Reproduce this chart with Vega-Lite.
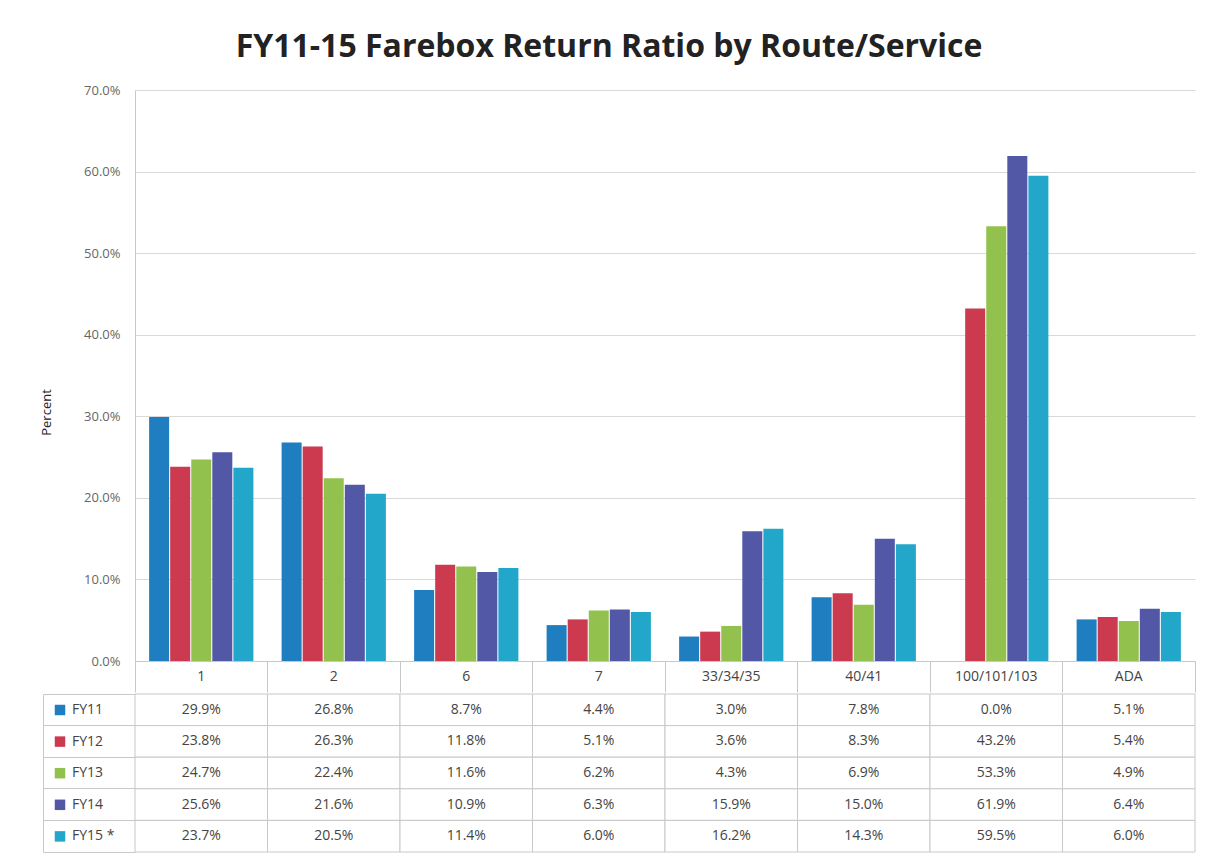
{
  "$schema": "https://vega.github.io/schema/vega-lite/v6.json",
  "padding": {"left": 40, "top": 31, "right": 10, "bottom": 0},
  "background": "white",
  "title": {"text": "FY11-15 Farebox Return Ratio by Route/Service", "fontSize": 32, "font": "Open Sans", "fontWeight": "bold", "color": "#222", "anchor": "middle", "offset": 20, "dx": -9},
  "datasets": {
    "fr": [
      {"route": "1", "fy": "FY11", "v": 0.299},
      {"route": "1", "fy": "FY12", "v": 0.238},
      {"route": "1", "fy": "FY13", "v": 0.247},
      {"route": "1", "fy": "FY14", "v": 0.256},
      {"route": "1", "fy": "FY15 *", "v": 0.237},
      {"route": "2", "fy": "FY11", "v": 0.268},
      {"route": "2", "fy": "FY12", "v": 0.263},
      {"route": "2", "fy": "FY13", "v": 0.224},
      {"route": "2", "fy": "FY14", "v": 0.216},
      {"route": "2", "fy": "FY15 *", "v": 0.205},
      {"route": "6", "fy": "FY11", "v": 0.087},
      {"route": "6", "fy": "FY12", "v": 0.118},
      {"route": "6", "fy": "FY13", "v": 0.116},
      {"route": "6", "fy": "FY14", "v": 0.109},
      {"route": "6", "fy": "FY15 *", "v": 0.114},
      {"route": "7", "fy": "FY11", "v": 0.044},
      {"route": "7", "fy": "FY12", "v": 0.051},
      {"route": "7", "fy": "FY13", "v": 0.062},
      {"route": "7", "fy": "FY14", "v": 0.063},
      {"route": "7", "fy": "FY15 *", "v": 0.060},
      {"route": "33/34/35", "fy": "FY11", "v": 0.030},
      {"route": "33/34/35", "fy": "FY12", "v": 0.036},
      {"route": "33/34/35", "fy": "FY13", "v": 0.043},
      {"route": "33/34/35", "fy": "FY14", "v": 0.159},
      {"route": "33/34/35", "fy": "FY15 *", "v": 0.162},
      {"route": "40/41", "fy": "FY11", "v": 0.078},
      {"route": "40/41", "fy": "FY12", "v": 0.083},
      {"route": "40/41", "fy": "FY13", "v": 0.069},
      {"route": "40/41", "fy": "FY14", "v": 0.150},
      {"route": "40/41", "fy": "FY15 *", "v": 0.143},
      {"route": "100/101/103", "fy": "FY11", "v": 0.000},
      {"route": "100/101/103", "fy": "FY12", "v": 0.432},
      {"route": "100/101/103", "fy": "FY13", "v": 0.533},
      {"route": "100/101/103", "fy": "FY14", "v": 0.619},
      {"route": "100/101/103", "fy": "FY15 *", "v": 0.595},
      {"route": "ADA", "fy": "FY11", "v": 0.051},
      {"route": "ADA", "fy": "FY12", "v": 0.054},
      {"route": "ADA", "fy": "FY13", "v": 0.049},
      {"route": "ADA", "fy": "FY14", "v": 0.064},
      {"route": "ADA", "fy": "FY15 *", "v": 0.060}
    ]
  },
  "spacing": 0,
  "vconcat": [
    {
      "width": 1060,
      "height": 571,
      "data": {"name": "fr"},
      "mark": {"type": "bar"},
      "encoding": {
        "x": {
          "field": "route", "type": "nominal",
          "sort": ["1", "2", "6", "7", "33/34/35", "40/41", "100/101/103", "ADA"],
          "scale": {"paddingInner": 0, "paddingOuter": 0},
          "axis": {"title": null, "labelAngle": 0, "bandPosition": 1, "tickExtra": true, "tickSize": 31, "tickColor": "#c8c8c8", "domainColor": "#c8c8c8", "labelPadding": -23, "labelFontSize": 14, "labelColor": "#444", "labelFont": "Open Sans", "grid": false}
        },
        "xOffset": {
          "field": "fy", "type": "nominal",
          "scale": {"paddingInner": 0.05, "paddingOuter": 0.67}
        },
        "y": {
          "field": "v", "type": "quantitative",
          "scale": {"domain": [0, 0.7], "nice": false},
          "axis": {"title": "Percent", "titleY": 322, "titlePadding": 30, "titleFontSize": 13, "titleFontWeight": "normal", "titleColor": "#222", "titleFont": "Open Sans", "format": ".1%", "values": [0, 0.1, 0.2, 0.3, 0.4, 0.5, 0.6, 0.7], "ticks": false, "labelPadding": 15, "labelFontSize": 13, "labelColor": "#666", "labelFont": "Open Sans", "domain": true, "domainColor": "#c8c8c8", "gridColor": "#d9d9d9"}
        },
        "color": {
          "field": "fy", "type": "nominal",
          "scale": {"domain": ["FY11", "FY12", "FY13", "FY14", "FY15 *"], "range": ["#1f7ec0", "#cc3a4f", "#92c24d", "#5358a6", "#22a6c9"]},
          "legend": {"title": null, "orient": "none", "legendX": -82, "legendY": 613, "symbolType": "square", "symbolSize": 110, "symbolStrokeWidth": 0, "labelFontSize": 14, "labelColor": "#444", "labelFont": "Open Sans", "rowPadding": 17.6, "labelOffset": 5}
        }
      }
    },
    {
      "width": 1060,
      "height": 158,
      "data": {"name": "fr"},
      "encoding": {
        "x": {
          "field": "route", "type": "nominal",
          "sort": ["1", "2", "6", "7", "33/34/35", "40/41", "100/101/103", "ADA"],
          "scale": {"paddingInner": 0, "paddingOuter": 0},
          "axis": null
        },
        "y": {
          "field": "fy", "type": "nominal",
          "sort": ["FY11", "FY12", "FY13", "FY14", "FY15 *"],
          "scale": {"paddingInner": 0, "paddingOuter": 0},
          "axis": {"title": null, "labels": false, "offset": 92, "domain": true, "domainColor": "#c8c8c8", "ticks": true, "tickSize": -92, "tickColor": "#c8c8c8", "bandPosition": 1, "tickExtra": true, "grid": false}
        }
      },
      "layer": [
        {
          "mark": {"type": "rect", "fill": "white", "stroke": "#c8c8c8", "strokeWidth": 1}
        },
        {
          "mark": {"type": "text", "fontSize": 14, "color": "#444", "font": "Open Sans"},
          "encoding": {
            "text": {"field": "v", "type": "quantitative", "format": ".1%"}
          }
        }
      ]
    }
  ],
  "config": {
    "view": {"stroke": null},
    "concat": {"spacing": 0}
  }
}
